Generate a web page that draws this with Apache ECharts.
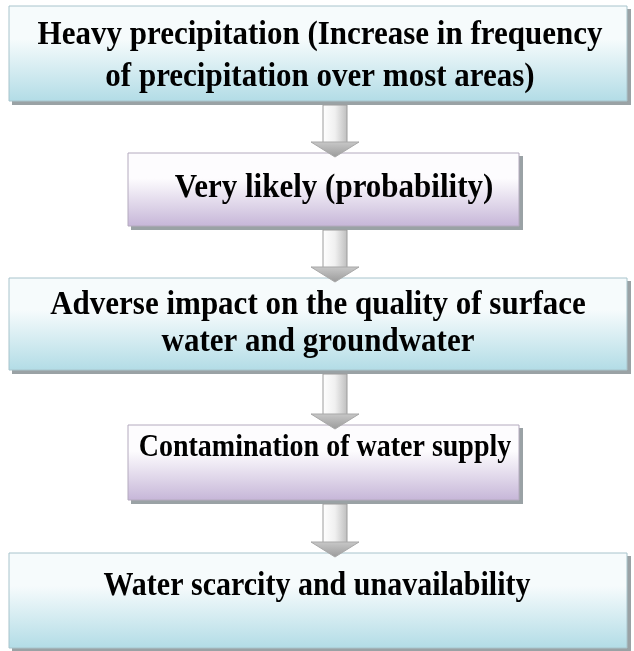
<!DOCTYPE html>
<html><head><meta charset="utf-8">
<script src="https://cdn.jsdelivr.net/npm/echarts@6/dist/echarts.min.js"></script>
<style>html,body{margin:0;padding:0;background:#fff}#c{width:634px;height:651px}</style>
</head><body><div id="c"></div>
<script>
// ---- content ----
const stepTexts = [
  'Heavy precipitation (Increase in frequency\nof precipitation over most areas)',
  'Very likely (probability)',
  'Adverse impact on the quality of surface\nwater and groundwater',
  'Contamination of water supply',
  'Water scarcity and unavailability'
];
const stepKinds = ['wide', 'narrow', 'wide', 'narrow', 'wide'];
const linkFrom = [0, 1, 2, 3];
const linkTo = [1, 2, 3, 4];

// ---- layout (pixel space of the hidden axes) ----
const LAYOUT = {
  wide: { x0: 9, x1: 627 },
  narrow: { x0: 128, x1: 519 },
  top: [6, 153, 278, 425, 553],
  bottom: [101, 226, 370, 500, 648],
  textY: [56, 188, 324, 448, 586],
  textX: [320, 334, 318, 325, 317],
  lineH: [38, 30, 33, 30, 30],
  fontSize: [31, 31, 31, 28, 30],
  arrowX: 335, shaftHalf: 12, headHalf: 24, headH: 15
};
const THEME = {
  wide: { top: '#f6fbfc', bottom: '#b2dce6', edge: '#a8c4cc' },
  narrow: { top: '#fdfcfe', bottom: '#c6b6d8', edge: '#b4aabe' }
};
const FONT = '"Liberation Serif", "Times New Roman", serif';
const TEXT_STRETCH = 1.12;

const chart = echarts.init(document.getElementById('c'), null, { renderer: 'canvas' });

function grad(x0, y0, x1, y1, stops) {
  return new echarts.graphic.LinearGradient(x0, y0, x1, y1, stops);
}

function renderBox(params, api) {
  const i = api.value(0);
  const kind = stepKinds[i];
  const L = LAYOUT[kind];
  const p0 = api.coord([L.x0, LAYOUT.top[i]]);
  const p1 = api.coord([L.x1, LAYOUT.bottom[i]]);
  const w = p1[0] - p0[0], h = p1[1] - p0[1];
  const th = THEME[kind];
  const tc = api.coord([LAYOUT.textX[i], LAYOUT.textY[i]]);
  return {
    type: 'group',
    children: [
      { type: 'rect', shape: { x: p0[0] + 3, y: p0[1] + 3, width: w + 1, height: h + 1 },
        style: { fill: '#9aa2a5' } },
      { type: 'rect', shape: { x: p0[0], y: p0[1], width: w, height: h },
        style: { fill: grad(0, 0, 0, 1, [{ offset: 0, color: th.top }, { offset: 0.35, color: th.top }, { offset: 1, color: th.bottom }]),
                 stroke: th.edge, lineWidth: 1 } },
      { type: 'text', x: tc[0], y: tc[1], scaleY: TEXT_STRETCH,
        style: { text: stepTexts[i], fill: '#000', font: 'bold ' + LAYOUT.fontSize[i] + 'px ' + FONT,
                 align: 'center', verticalAlign: 'middle', lineHeight: LAYOUT.lineH[i] } }
    ]
  };
}

function renderArrow(params, api) {
  const a = api.value(0), b = api.value(1);
  const cx = LAYOUT.arrowX;
  const yStart = LAYOUT.bottom[a] + 4;
  const yTip = LAYOUT.top[b] + 4;
  const yHead = yTip - LAYOUT.headH;
  const s0 = api.coord([cx - LAYOUT.shaftHalf, yStart]);
  const s1 = api.coord([cx + LAYOUT.shaftHalf, yHead]);
  const hl = api.coord([cx - LAYOUT.headHalf, yHead]);
  const hr = api.coord([cx + LAYOUT.headHalf, yHead]);
  const tip = api.coord([cx, yTip]);
  return {
    type: 'group',
    children: [
      { type: 'rect', shape: { x: s0[0], y: s0[1], width: s1[0] - s0[0], height: s1[1] - s0[1] + 1 },
        style: { fill: grad(0, 0, 1, 0, [{ offset: 0, color: '#ffffff' }, { offset: 0.5, color: '#f0f0f0' }, { offset: 1, color: '#bdbdbd' }]),
                 stroke: '#9c9c9c', lineWidth: 1 } },
      { type: 'polygon', shape: { points: [hl, hr, tip] },
        style: { fill: grad(0, 0, 0, 1, [{ offset: 0, color: '#c9c9c9' }, { offset: 1, color: '#9a9a9a' }]),
                 stroke: '#a8a8a8', lineWidth: 1 } }
    ]
  };
}

chart.setOption({
  animation: false,
  backgroundColor: '#ffffff',
  grid: { left: 0, right: 0, top: 0, bottom: 0 },
  xAxis: { type: 'value', min: 0, max: 634, show: false },
  yAxis: { type: 'value', min: 0, max: 651, inverse: true, show: false },
  series: [
    { type: 'custom', renderItem: renderBox, data: stepTexts.map((t, i) => [i]), z: 2 },
    { type: 'custom', renderItem: renderArrow, data: linkFrom.map((f, i) => [f, linkTo[i]]), z: 3 }
  ]
});
</script>
</body></html>
